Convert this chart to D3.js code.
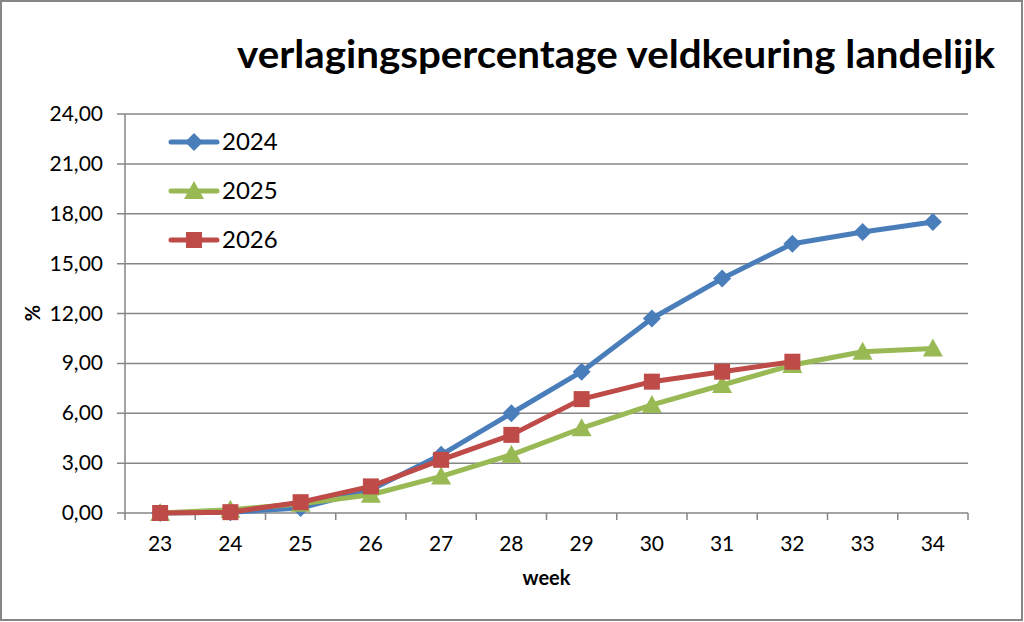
<!DOCTYPE html>
<html>
<head>
<meta charset="utf-8">
<script src="https://cdn.jsdelivr.net/npm/d3@7"></script>
<style>
  body { margin: 0; background: #fff; }
  svg text { font-family: Lato, "Open Sans", sans-serif; fill: #000; }
</style>
</head>
<body>
<div id="chart"></div>
<script>
// data
let weeks = [23, 24, 25, 26, 27, 28, 29, 30, 31, 32, 33, 34];
let yTicks = [0, 3, 6, 9, 12, 15, 18, 21, 24];
let v2024 = [0, 0.05, 0.3, 1.4, 3.5, 6.0, 8.5, 11.7, 14.1, 16.2, 16.9, 17.5];
let v2025 = [0, 0.2, 0.55, 1.1, 2.2, 3.5, 5.1, 6.5, 7.7, 8.9, 9.7, 9.9];
let v2026 = [0, 0.05, 0.65, 1.6, 3.2, 4.7, 6.85, 7.9, 8.5, 9.1];
let seriesNames = ['2024', '2025', '2026'];

let chartOper = {
    width: 1024,
    height: 622,
    margin: { left: 125, right: 56, top: 114, bottom: 109 },

    /** drawFrame 外框 + 标题 */
    drawFrame(svg){
        svg.append('rect')
            .attr('x', 1).attr('y', 1)
            .attr('width', this.width - 3).attr('height', this.height - 3)
            .attr('fill', 'white')
            .attr('stroke', '#868686')
            .attr('stroke-width', 2);

        svg.append('text')
            .attr('x', 995).attr('y', 68)
            .attr('text-anchor', 'end')
            .attr('textLength', 758)
            .attr('lengthAdjust', 'spacingAndGlyphs')
            .style('font-size', '39px')
            .style('font-weight', 'bold')
            .text('verlagingspercentage veldkeuring landelijk');
    },

    /** drawAxes 坐标轴和网格线 */
    drawAxes(svg, x, y){
        let m = this.margin;
        let right = this.width - m.right;
        let bottom = this.height - m.bottom;

        // horizontal gridlines
        svg.append('g')
            .selectAll('line')
            .data(yTicks)
            .enter()
            .append('line')
            .attr('x1', m.left - 8)
            .attr('x2', right)
            .attr('y1', d => y(d))
            .attr('y2', d => y(d))
            .attr('stroke', '#868686')
            .attr('stroke-width', 1.5);

        svg.append('g')
            .selectAll('text')
            .data(yTicks)
            .enter()
            .append('text')
            .attr('x', 103)
            .attr('y', d => y(d) + 7)
            .attr('text-anchor', 'end')
            .style('font-size', '21px')
            .text(d => d3.format('.2f')(d).replace('.', ','));

        // vertical axis line
        svg.append('line')
            .attr('x1', m.left).attr('x2', m.left)
            .attr('y1', m.top).attr('y2', bottom)
            .attr('stroke', '#868686')
            .attr('stroke-width', 1.5);

        // category ticks on boundaries
        let bounds = d3.range(weeks.length + 1).map(i => m.left + i * x.step());
        svg.append('g')
            .selectAll('line')
            .data(bounds)
            .enter()
            .append('line')
            .attr('x1', d => d).attr('x2', d => d)
            .attr('y1', bottom).attr('y2', bottom + 7)
            .attr('stroke', '#868686')
            .attr('stroke-width', 1.5);

        svg.append('g')
            .selectAll('text')
            .data(weeks)
            .enter()
            .append('text')
            .attr('x', d => x(d))
            .attr('y', bottom + 38)
            .attr('text-anchor', 'middle')
            .style('font-size', '21px')
            .text(d => d);

        svg.append('text')
            .attr('x', x(28) + x.step() / 2)
            .attr('y', 585)
            .attr('text-anchor', 'middle')
            .style('font-size', '20px')
            .style('font-weight', 'bold')
            .text('week');

        svg.append('text')
            .attr('transform', 'translate(40,313) rotate(-90)')
            .attr('text-anchor', 'middle')
            .style('font-size', '20px')
            .style('font-weight', 'bold')
            .text('%');
    },

    /** drawMarker 画一个点 */
    drawMarker(g, type, cx, cy, color){
        if(type == 'diamond'){
            g.append('path')
                .attr('d', `M${cx},${cy - 9}L${cx + 9},${cy}L${cx},${cy + 9}L${cx - 9},${cy}Z`)
                .attr('fill', color);
        }
        else if(type == 'triangle'){
            g.append('path')
                .attr('d', `M${cx},${cy - 10}L${cx + 10},${cy + 8}L${cx - 10},${cy + 8}Z`)
                .attr('fill', color);
        }
        else{
            g.append('rect')
                .attr('x', cx - 8).attr('y', cy - 8)
                .attr('width', 16).attr('height', 16)
                .attr('fill', color);
        }
    },

    /** drawSeries 画一条折线 */
    drawSeries(svg, x, y, values, color, type){
        let g = svg.append('g');
        let pts = values.map((v, i) => [x(weeks[i]), y(v)]);
        g.append('path')
            .attr('d', d3.line()(pts))
            .attr('fill', 'none')
            .attr('stroke', color)
            .attr('stroke-width', 5)
            .attr('stroke-linejoin', 'round');
        pts.forEach(p => this.drawMarker(g, type, p[0], p[1], color));
    },

    /** drawLegend 图例 */
    drawLegend(svg, colors, types){
        seriesNames.forEach((name, i) => {
            let ly = 142 + i * 49;
            let g = svg.append('g');
            g.append('line')
                .attr('x1', 171).attr('x2', 217)
                .attr('y1', ly).attr('y2', ly)
                .attr('stroke', colors[i])
                .attr('stroke-width', 5)
                .attr('stroke-linecap', 'round');
            this.drawMarker(g, types[i], 194, ly, colors[i]);
            g.append('text')
                .attr('x', 222).attr('y', ly + 8)
                .style('font-size', '24px')
                .text(name);
        });
    }
};

let svg = d3.select('#chart')
    .append('svg')
    .attr('width', chartOper.width)
    .attr('height', chartOper.height);

let m = chartOper.margin;
let x = d3.scalePoint()
    .domain(weeks)
    .range([m.left, chartOper.width - m.right])
    .padding(0.5);
let y = d3.scaleLinear()
    .domain([0, 24])
    .range([chartOper.height - m.bottom, m.top]);

let colors = ['#4A7EBB', '#98B954', '#BE4B48'];
let types = ['diamond', 'triangle', 'square'];

chartOper.drawFrame(svg);
chartOper.drawAxes(svg, x, y);
chartOper.drawSeries(svg, x, y, v2024, colors[0], types[0]);
chartOper.drawSeries(svg, x, y, v2025, colors[1], types[1]);
chartOper.drawSeries(svg, x, y, v2026, colors[2], types[2]);
chartOper.drawLegend(svg, colors, types);
</script>
</body>
</html>
